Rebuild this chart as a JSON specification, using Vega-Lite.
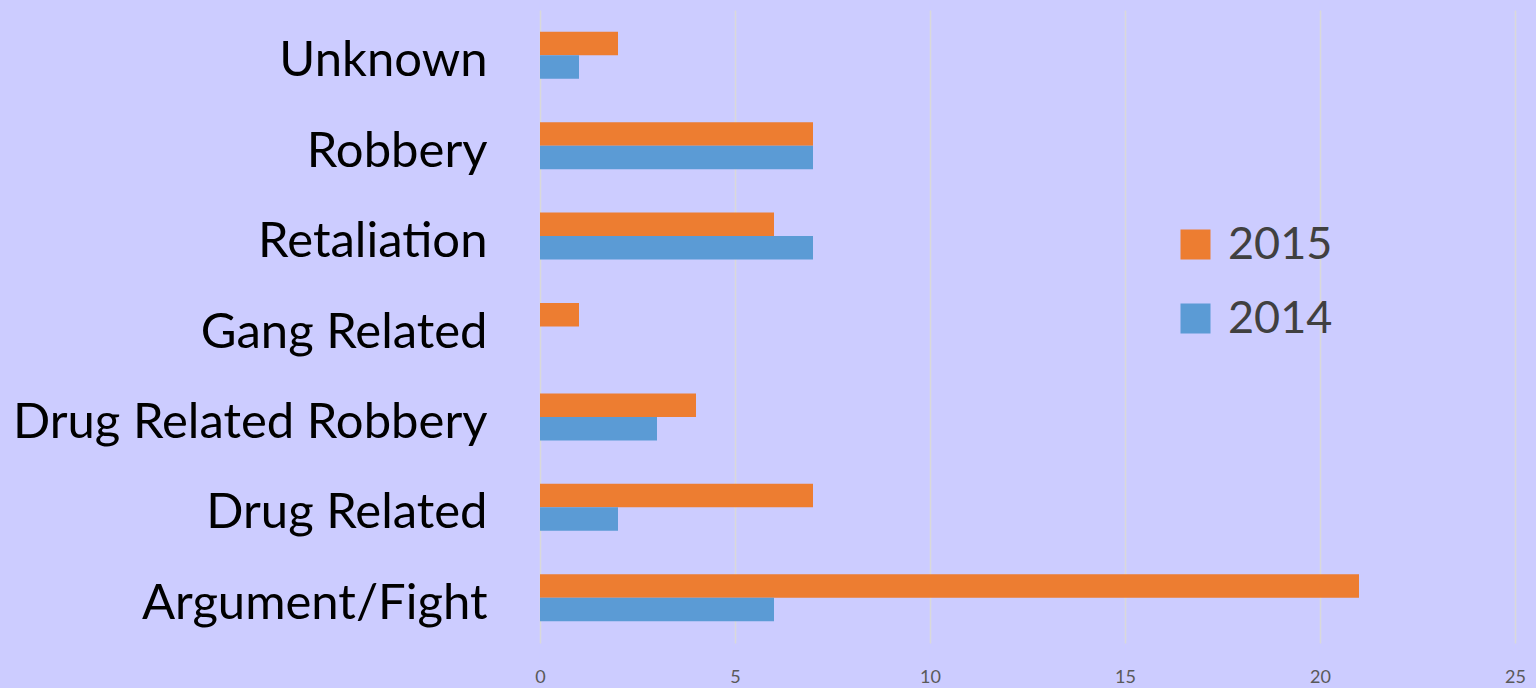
{
  "$schema": "https://vega.github.io/schema/vega-lite/v6.json",
  "autosize": "none",
  "width": 975,
  "height": 633,
  "padding": {"left": 540, "top": 10, "right": 21, "bottom": 45},
  "background": "#CCCCFF",
  "config": {"view": {"stroke": null}},
  "data": {"values": [
    {"cause": "Unknown", "year": "2015", "count": 2},
    {"cause": "Unknown", "year": "2014", "count": 1},
    {"cause": "Robbery", "year": "2015", "count": 7},
    {"cause": "Robbery", "year": "2014", "count": 7},
    {"cause": "Retaliation", "year": "2015", "count": 6},
    {"cause": "Retaliation", "year": "2014", "count": 7},
    {"cause": "Gang Related", "year": "2015", "count": 1},
    {"cause": "Gang Related", "year": "2014", "count": 0},
    {"cause": "Drug Related Robbery", "year": "2015", "count": 4},
    {"cause": "Drug Related Robbery", "year": "2014", "count": 3},
    {"cause": "Drug Related", "year": "2015", "count": 7},
    {"cause": "Drug Related", "year": "2014", "count": 2},
    {"cause": "Argument/Fight", "year": "2015", "count": 21},
    {"cause": "Argument/Fight", "year": "2014", "count": 6}
  ]},
  "mark": {"type": "bar"},
  "encoding": {
    "y": {
      "field": "cause", "type": "nominal",
      "sort": ["Unknown", "Robbery", "Retaliation", "Gang Related", "Drug Related Robbery", "Drug Related", "Argument/Fight"],
      "scale": {"paddingInner": 0.48, "paddingOuter": 0.24},
      "axis": {"title": null, "domain": false, "ticks": false, "labelFont": "Lato", "labelFontSize": 49, "labelColor": "#000000", "labelPadding": 53, "labelLimit": 600, "labelBaseline": "alphabetic", "labelOffset": 21}
    },
    "yOffset": {"field": "year", "type": "nominal", "sort": ["2015", "2014"]},
    "x": {
      "field": "count", "type": "quantitative",
      "scale": {"domain": [0, 25], "nice": false},
      "axis": {"title": null, "values": [0, 5, 10, 15, 20, 25], "domain": false, "ticks": false, "grid": true, "gridColor": "#D9D9D9", "gridWidth": 1.5, "labelFlush": false, "labelFont": "Lato", "labelFontSize": 18, "labelColor": "#595959", "labelPadding": 25}
    },
    "color": {
      "field": "year", "type": "nominal",
      "scale": {"domain": ["2015", "2014"], "range": ["#ED7D31", "#5B9BD5"]},
      "legend": {"title": null, "orient": "none", "legendX": 633, "legendY": 212, "symbolType": "square", "symbolSize": 900, "symbolStrokeWidth": 0, "labelFont": "Lato", "labelFontSize": 45, "labelColor": "#404040", "labelOffset": 10, "rowPadding": 28}
    }
  }
}
